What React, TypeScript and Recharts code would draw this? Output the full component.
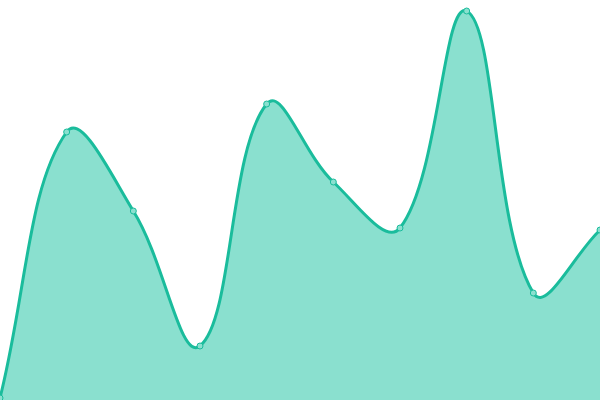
import React from 'react';
import { AreaChart, Area, XAxis, YAxis } from 'recharts';

const labels = ['A', 'B', 'C', 'D', 'E', 'F', 'G', 'H', 'I', 'J'];
const values = [2, 268, 189, 54, 296, 218, 172, 389, 107, 170];

const data = labels.map((name, i) => ({ name, value: values[i] }));

// tension spline: control points weighted by distance to the neighbours
const TENSION = 0.4;

class TensionCurve {
  _context: any;
  _line: number = NaN;
  _pts: [number, number][] = [];

  constructor(context: any) {
    this._context = context;
  }
  areaStart() {
    this._line = 0;
  }
  areaEnd() {
    this._line = NaN;
  }
  lineStart() {
    this._pts = [];
  }
  point(x: number, y: number) {
    this._pts.push([+x, +y]);
  }
  lineEnd() {
    const ctx = this._context;
    const p = this._pts;
    const n = p.length;
    if (n) {
      if (this._line) ctx.lineTo(p[0][0], p[0][1]);
      else ctx.moveTo(p[0][0], p[0][1]);
    }
    if (n > 1) {
      const cps = p.map((cur, i) => {
        const prev = p[i - 1] || cur;
        const next = p[i + 1] || cur;
        const d01 = Math.hypot(cur[0] - prev[0], cur[1] - prev[1]);
        const d12 = Math.hypot(next[0] - cur[0], next[1] - cur[1]);
        let s01 = d01 / (d01 + d12);
        let s12 = d12 / (d01 + d12);
        if (isNaN(s01)) s01 = 0;
        if (isNaN(s12)) s12 = 0;
        const fa = TENSION * s01;
        const fb = TENSION * s12;
        const dx = next[0] - prev[0];
        const dy = next[1] - prev[1];
        return {
          inX: cur[0] - fa * dx,
          inY: Math.max(0, cur[1] - fa * dy),
          outX: cur[0] + fb * dx,
          outY: Math.max(0, cur[1] + fb * dy),
        };
      });
      for (let i = 1; i < n; i++) {
        ctx.bezierCurveTo(cps[i - 1].outX, cps[i - 1].outY, cps[i].inX, cps[i].inY, p[i][0], p[i][1]);
      }
    }
    if (this._line || (this._line !== 0 && n === 1)) ctx.closePath();
    this._line = 1 - this._line;
  }
}

const tensionCurve = (context: any) => new TensionCurve(context);

const App: React.FC = () => {
  return (
    <div style={{ position: 'absolute', left: 0, top: 0, width: 600, height: 400, background: '#fff' }}>
      <AreaChart width={600} height={400} data={data} margin={{ top: 0, right: 0, left: 0, bottom: 0 }}>
        <XAxis dataKey="name" hide />
        <YAxis hide domain={[0, 400]} />
        <Area
          type={tensionCurve as any}
          dataKey="value"
          stroke="#1abc9c"
          strokeWidth={3}
          fill="#8ae0cf"
          fillOpacity={1}
          dot={{ r: 3, fill: '#8ae0cf', stroke: '#1abc9c', strokeWidth: 1, fillOpacity: 1 }}
          activeDot={false}
          isAnimationActive={false}
        />
      </AreaChart>
    </div>
  );
};

export default App;
